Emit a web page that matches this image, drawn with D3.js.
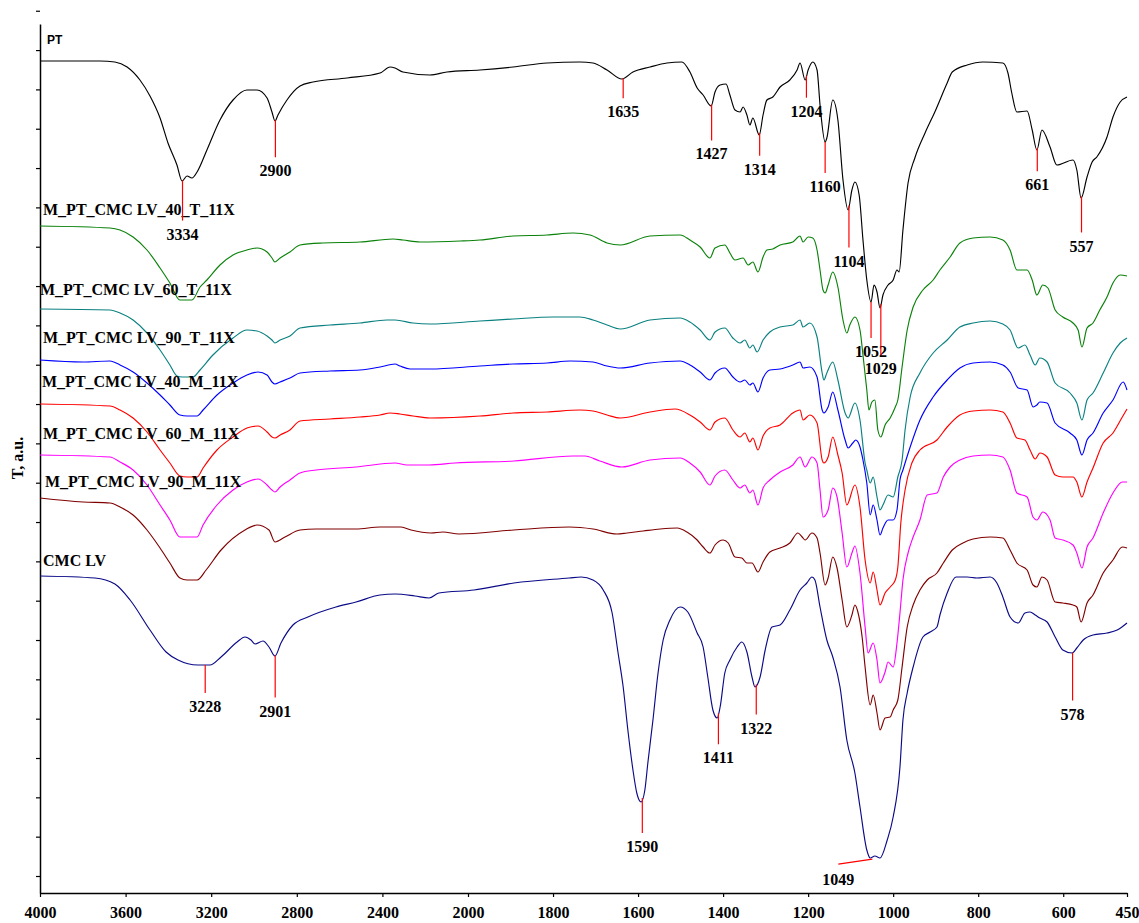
<!DOCTYPE html>
<html>
<head>
<meta charset="utf-8">
<script src="https://cdn.jsdelivr.net/npm/d3@7"></script>
<style>
  body { margin: 0; background: #ffffff; }
  svg { display: block; background: #ffffff; }
  text { font-family: "Liberation Serif", "Times New Roman", serif; font-weight: bold; fill: #000; }
</style>
</head>
<body>
<svg id="chart" width="1139" height="923"></svg>
<script>
// ---------------- DATA (wavenumber cm-1, T a.u.) ----------------
const seriesNames = ["PT", "M_PT_CMC LV_40_T_11X", "M_PT_CMC LV_60_T_11X", "M_PT_CMC LV_90_T_11X",
  "M_PT_CMC LV_40_M_11X", "M_PT_CMC LV_60_M_11X", "M_PT_CMC LV_90_M_11X", "CMC LV"];
const seriesColors = ["#000000", "#0a820a", "#0a8080", "#0000ff", "#ff0000", "#ff00ff", "#800000", "#0a0a88"];

const PT = [[4000,83.2],[3720,83.2],[3650,83.1],[3593,82.6],[3533,81.3],[3486,79.7],[3439,77.5],[3402,75.0],[3360,72.8],[3336,71.2],[3313,71.7],[3290,71.5],[3266,72.1],[3220,74.3],[3159,77.3],[3098,79.3],[3033,80.3],[2986,80.3],[2939,79.5],[2916,78.1],[2902,77.2],[2888,77.8],[2846,79.3],[2785,80.7],[2724,81.1],[2565,81.5],[2411,82.0],[2364,82.6],[2341,82.5],[2304,82.1],[2178,81.8],[2098,82.1],[1972,82.3],[1894,82.6],[1814,83.0],[1737,83.1],[1706,83.0],[1673,82.3],[1638,81.4],[1612,82.1],[1572,82.6],[1532,83.0],[1497,83.1],[1478,82.1],[1461,80.5],[1447,79.8],[1428,78.7],[1419,80.1],[1407,80.8],[1393,80.9],[1384,79.8],[1372,78.3],[1360,78.1],[1353,78.6],[1344,77.8],[1337,76.8],[1330,77.5],[1315,75.8],[1306,77.8],[1297,79.3],[1283,79.6],[1266,80.6],[1243,81.3],[1226,82.3],[1219,83.0],[1207,81.3],[1200,82.3],[1189,83.1],[1179,82.3],[1172,78.8],[1160,75.1],[1156,75.5],[1142,79.3],[1130,77.3],[1118,71.3],[1106,68.3],[1097,70.3],[1090,71.1],[1080,69.8],[1071,65.3],[1062,61.3],[1052,59.1],[1045,60.8],[1038,60.1],[1031,58.5],[1024,59.8],[1012,60.8],[1000,61.3],[991,62.3],[986,62.1],[977,66.3],[965,71.0],[949,73.5],[925,76.0],[902,78.1],[873,81.0],[861,82.1],[826,82.8],[789,83.1],[742,83.0],[730,82.0],[721,80.0],[709,78.1],[685,78.2],[673,76.3],[662,74.3],[650,76.3],[631,74.6],[615,72.8],[577,73.3],[568,72.3],[558,69.5],[544,71.6],[532,73.1],[521,73.6],[497,75.6],[483,77.6],[466,79.1],[450,79.6]];

const LV40T = [[4000,66.7],[3673,66.5],[3626,66.3],[3565,65.6],[3500,64.3],[3439,62.5],[3393,61.0],[3346,59.3],[3290,59.3],[3252,60.6],[3220,61.3],[3159,62.8],[3098,63.8],[3033,64.3],[2986,64.5],[2939,64.1],[2916,63.5],[2902,63.1],[2878,63.5],[2832,64.1],[2785,64.8],[2678,65.0],[2505,65.1],[2350,65.4],[2304,65.3],[2224,65.1],[2037,65.2],[1972,65.3],[1894,65.7],[1814,65.8],[1753,66.0],[1713,65.8],[1673,65.0],[1642,64.8],[1572,65.7],[1501,65.8],[1478,65.3],[1454,64.6],[1431,63.5],[1419,64.5],[1396,64.8],[1384,64.0],[1372,63.3],[1353,63.5],[1341,62.8],[1330,63.1],[1318,62.1],[1306,63.6],[1297,64.3],[1283,64.4],[1266,64.8],[1236,65.1],[1219,65.7],[1212,65.1],[1200,65.6],[1189,65.5],[1179,64.3],[1172,62.3],[1165,60.3],[1160,60.0],[1153,60.8],[1142,62.1],[1130,60.6],[1118,57.3],[1109,56.0],[1102,56.8],[1090,57.6],[1078,56.3],[1071,53.8],[1062,50.3],[1057,48.3],[1050,49.1],[1043,49.3],[1036,46.3],[1029,45.6],[1019,46.8],[1007,47.5],[995,48.6],[989,49.3],[979,52.6],[967,56.3],[953,58.6],[930,60.3],[906,61.3],[890,62.3],[866,63.6],[843,65.0],[812,65.5],[772,65.6],[742,65.3],[725,64.3],[709,62.3],[685,62.3],[673,61.3],[662,59.8],[648,60.8],[636,60.5],[619,58.3],[601,57.6],[577,57.0],[565,56.3],[556,54.6],[544,56.5],[530,57.0],[514,58.3],[497,59.6],[483,61.0],[466,61.8],[450,61.7]];

const LV60T = [[4000,58.4],[3673,58.3],[3626,58.0],[3565,57.3],[3500,56.0],[3439,54.3],[3393,52.8],[3360,51.7],[3336,51.6],[3285,51.6],[3252,52.3],[3192,53.8],[3098,55.5],[3033,56.3],[2986,56.2],[2939,55.7],[2916,55.3],[2902,55.0],[2878,55.3],[2832,55.7],[2785,56.5],[2645,56.8],[2505,57.0],[2379,57.3],[2341,57.3],[2257,57.0],[2178,56.9],[1972,57.2],[1894,57.4],[1800,57.6],[1737,57.6],[1706,57.3],[1673,56.8],[1642,56.4],[1572,57.3],[1501,57.5],[1478,57.1],[1454,56.3],[1431,55.3],[1419,56.1],[1396,56.5],[1377,55.5],[1360,55.0],[1349,55.3],[1337,54.5],[1330,54.8],[1320,54.1],[1306,55.3],[1290,56.1],[1266,56.6],[1236,56.8],[1219,57.3],[1212,56.6],[1196,57.0],[1179,55.6],[1167,52.0],[1163,51.3],[1156,52.0],[1142,53.1],[1130,51.3],[1113,48.0],[1106,47.5],[1090,49.0],[1078,47.3],[1066,43.0],[1062,42.3],[1054,41.0],[1047,41.6],[1038,39.6],[1031,38.3],[1024,38.8],[1012,39.8],[1000,39.6],[989,41.6],[979,43.3],[972,46.3],[960,49.6],[937,52.0],[906,54.0],[873,55.3],[843,56.6],[812,57.0],[772,57.2],[742,56.9],[725,56.3],[706,54.5],[690,54.8],[678,53.8],[666,52.8],[655,53.5],[638,53.1],[619,51.0],[584,50.0],[568,49.0],[556,47.3],[544,49.3],[530,50.0],[506,52.0],[483,54.0],[466,55.0],[450,55.5]];

const LV90T = [[4000,53.3],[3799,53.1],[3673,53.2],[3626,52.8],[3565,52.1],[3500,51.0],[3439,49.8],[3393,48.8],[3346,47.8],[3313,47.7],[3266,47.7],[3238,48.3],[3173,49.8],[3098,51.0],[3033,51.8],[2981,52.1],[2939,51.8],[2916,51.1],[2902,50.9],[2878,51.1],[2832,51.5],[2785,52.0],[2645,52.2],[2505,52.3],[2411,52.6],[2341,52.9],[2318,52.7],[2271,52.4],[2178,52.4],[1972,52.7],[1894,52.9],[1814,53.0],[1760,53.2],[1706,53.1],[1673,52.7],[1642,52.5],[1572,53.0],[1501,53.2],[1478,52.8],[1454,52.1],[1431,51.3],[1419,52.0],[1396,52.5],[1377,51.6],[1360,51.1],[1349,51.3],[1337,50.8],[1330,51.0],[1318,50.1],[1306,51.5],[1290,52.3],[1266,52.4],[1236,52.8],[1219,53.1],[1212,52.5],[1196,52.6],[1179,51.6],[1167,48.3],[1163,48.0],[1153,48.6],[1142,50.1],[1130,48.3],[1113,45.3],[1106,44.5],[1095,45.0],[1088,45.3],[1078,44.6],[1071,43.3],[1062,41.0],[1054,37.8],[1047,38.8],[1038,37.3],[1031,35.8],[1024,36.5],[1012,37.3],[1000,37.3],[991,38.3],[984,41.3],[977,42.3],[960,44.6],[937,47.3],[906,49.6],[873,51.3],[843,52.5],[812,53.0],[772,53.1],[742,52.8],[725,52.1],[706,50.5],[685,50.3],[671,48.6],[662,48.8],[655,49.1],[638,49.0],[619,47.0],[584,46.0],[568,45.3],[556,43.8],[544,45.3],[530,46.0],[506,48.0],[483,49.3],[459,51.1],[450,50.3]];

const LV40M = [[4000,48.9],[3673,48.7],[3626,48.3],[3565,47.5],[3500,46.1],[3439,44.3],[3393,43.0],[3346,41.7],[3313,41.6],[3266,41.6],[3238,42.5],[3173,44.3],[3098,45.6],[3033,46.5],[2981,46.7],[2939,46.1],[2916,45.6],[2902,45.5],[2878,45.8],[2832,46.3],[2785,47.2],[2645,47.4],[2505,47.6],[2411,47.8],[2364,48.0],[2318,47.9],[2257,47.7],[2178,47.5],[1972,47.7],[1894,48.0],[1814,48.1],[1737,48.3],[1706,48.2],[1673,47.8],[1642,47.5],[1572,48.1],[1513,48.4],[1478,47.8],[1454,47.1],[1431,46.3],[1419,47.1],[1396,47.5],[1377,46.3],[1360,45.6],[1349,46.0],[1337,45.1],[1330,45.5],[1318,44.3],[1306,45.7],[1290,46.5],[1266,46.8],[1236,48.0],[1219,48.3],[1212,47.3],[1196,47.8],[1179,47.0],[1167,43.3],[1163,43.0],[1153,43.6],[1142,45.6],[1130,43.8],[1120,42.0],[1109,38.8],[1090,40.8],[1078,38.6],[1066,33.3],[1054,31.0],[1047,32.1],[1038,30.3],[1031,28.8],[1019,30.0],[1007,30.6],[995,31.3],[989,32.6],[982,37.0],[972,40.3],[956,43.0],[937,44.3],[897,45.3],[873,46.6],[843,47.8],[812,48.2],[772,48.3],[742,48.1],[725,47.0],[709,45.5],[690,45.3],[678,44.3],[666,43.4],[655,44.0],[638,43.6],[619,41.8],[601,41.6],[577,41.6],[568,41.1],[556,39.6],[544,41.1],[530,42.5],[506,45.0],[483,46.0],[461,47.6],[450,48.4]];

const LV60M = [[4000,43.8],[3673,43.6],[3626,43.1],[3565,42.3],[3500,40.8],[3439,38.8],[3393,37.3],[3346,35.6],[3266,35.6],[3238,36.8],[3173,38.8],[3098,40.3],[3033,41.1],[2981,41.4],[2939,40.8],[2916,40.3],[2902,40.1],[2878,40.6],[2832,41.3],[2785,42.0],[2710,42.3],[2523,42.6],[2341,43.0],[2285,42.8],[2182,42.8],[2061,43.0],[1892,43.2],[1753,43.7],[1725,43.7],[1690,43.2],[1638,42.6],[1572,43.3],[1501,43.5],[1478,43.0],[1454,42.1],[1431,40.8],[1419,41.7],[1396,42.3],[1377,41.3],[1360,40.5],[1349,40.8],[1337,40.0],[1330,40.3],[1318,38.8],[1306,40.5],[1290,41.3],[1266,42.1],[1236,42.8],[1219,43.6],[1207,42.6],[1191,43.6],[1179,43.0],[1172,40.3],[1165,37.6],[1153,38.3],[1142,40.5],[1132,39.6],[1120,36.0],[1109,32.6],[1097,34.0],[1090,34.7],[1078,32.0],[1066,26.6],[1059,24.0],[1047,25.0],[1038,23.3],[1031,21.0],[1019,22.1],[1012,23.1],[1000,22.6],[991,25.0],[984,28.0],[977,31.3],[965,34.0],[953,35.6],[937,37.3],[920,39.8],[897,40.0],[882,41.6],[866,42.6],[843,43.3],[812,43.7],[772,43.8],[742,43.6],[725,42.3],[709,40.0],[685,39.6],[671,37.6],[662,37.3],[648,38.1],[631,37.3],[619,35.5],[601,35.3],[577,34.8],[568,34.0],[556,32.5],[544,34.6],[530,35.5],[506,38.0],[483,40.0],[461,41.1],[450,41.1]];

const LV90M = [[4000,39.5],[3799,39.1],[3673,39.0],[3626,38.6],[3565,37.8],[3500,36.3],[3439,34.5],[3393,33.0],[3346,31.5],[3313,31.3],[3266,31.3],[3224,32.3],[3154,34.3],[3042,36.3],[2986,36.8],[2930,36.3],[2902,35.1],[2855,35.6],[2785,36.3],[2710,36.4],[2523,36.4],[2411,36.6],[2313,36.6],[2266,36.3],[2173,36.0],[2117,36.1],[2042,35.9],[1892,36.3],[1762,36.6],[1706,36.4],[1650,35.9],[1626,36.0],[1588,36.2],[1548,36.4],[1508,36.5],[1485,36.1],[1461,35.3],[1447,34.6],[1431,34.0],[1419,34.8],[1400,35.3],[1388,35.0],[1372,33.6],[1356,33.5],[1344,33.0],[1332,33.0],[1318,32.1],[1306,33.1],[1290,34.1],[1266,34.5],[1243,35.0],[1224,36.0],[1214,35.6],[1207,35.3],[1191,36.0],[1179,35.5],[1172,34.0],[1160,30.8],[1153,31.5],[1142,33.6],[1132,32.5],[1120,29.3],[1109,26.6],[1097,27.8],[1090,28.8],[1083,28.1],[1073,25.6],[1066,22.6],[1054,18.8],[1047,19.8],[1038,18.0],[1031,16.3],[1019,17.5],[1007,17.6],[1000,18.3],[989,19.3],[979,22.6],[967,26.6],[953,28.8],[937,30.3],[920,31.3],[897,32.0],[882,33.0],[861,34.3],[836,35.0],[812,35.4],[772,35.6],[742,35.5],[725,34.3],[709,33.0],[685,32.3],[671,30.8],[662,30.6],[650,31.6],[638,31.3],[619,29.1],[601,29.0],[577,28.8],[568,28.6],[558,27.1],[544,29.0],[530,29.8],[506,32.0],[483,33.3],[461,34.6],[450,34.5]];

const CMCLV = [[4000,31.7],[3743,31.5],[3650,30.9],[3579,29.3],[3486,26.3],[3411,24.1],[3355,23.3],[3262,22.8],[3206,22.8],[3154,23.6],[3079,25.1],[3042,25.6],[3014,25.3],[2995,24.9],[2958,25.2],[2930,24.6],[2902,23.7],[2874,25.0],[2818,26.8],[2748,27.6],[2617,28.6],[2523,29.1],[2411,29.8],[2341,29.9],[2248,29.7],[2182,29.5],[2136,30.0],[1986,30.3],[1892,31.0],[1762,31.5],[1734,31.6],[1706,31.3],[1682,30.3],[1661,28.0],[1647,24.0],[1635,20.6],[1624,16.3],[1612,12.3],[1603,10.0],[1593,9.1],[1584,10.3],[1577,13.0],[1565,17.3],[1553,22.0],[1541,25.3],[1525,27.3],[1501,28.6],[1483,28.1],[1461,26.0],[1447,24.6],[1436,21.6],[1424,18.3],[1414,17.5],[1407,18.6],[1396,22.0],[1384,23.3],[1367,24.6],[1356,25.1],[1344,24.1],[1332,21.6],[1325,20.6],[1313,21.6],[1301,24.3],[1285,26.6],[1266,26.8],[1243,28.3],[1219,30.3],[1203,31.0],[1191,31.6],[1184,31.3],[1172,28.6],[1156,25.3],[1142,23.6],[1125,20.6],[1109,15.3],[1090,12.0],[1078,8.6],[1062,4.3],[1054,3.5],[1043,3.7],[1031,3.5],[1014,5.3],[1000,7.6],[984,12.6],[977,17.3],[967,20.0],[953,22.6],[930,25.6],[913,26.1],[897,26.6],[890,27.8],[873,30.0],[852,31.6],[826,31.6],[803,31.5],[772,31.6],[756,31.0],[742,29.6],[725,27.6],[706,27.0],[690,28.0],[678,28.1],[666,27.8],[655,27.5],[638,27.1],[619,25.6],[601,24.3],[579,24.0],[568,24.5],[553,25.3],[530,25.8],[497,26.0],[473,26.3],[450,27.0]];

const xTickValues = [4000, 3600, 3200, 2800, 2400, 2000, 1800, 1600, 1400, 1200, 1000, 800, 600, 450];
const ptPeaks = [3334, 2900, 1635, 1427, 1314, 1204, 1160, 1104, 1052, 1029, 661, 557];
const cmcPeaks = [3228, 2901, 1590, 1411, 1322, 1049, 578];
const yAxisTitle = "T, a.u.";

// ---------------- LAYOUT ----------------
const allSeries = [PT, LV40T, LV60T, LV90T, LV40M, LV60M, LV90M, CMCLV];
const labelPos = [[47, 43.5], [43, 215], [40, 295], [43, 343], [42, 387], [43, 439], [45, 487], [43, 566]];
const ptLineLen = [40, 37, 20, 36, 23, 22, 31, 42, 36, 51, 23, 36];
const cmcLineLen = [28, 42, 35, 31, 30, 0, 48];

const svg = d3.select("#chart");
const x = d3.scaleLinear().domain([4000, 2000, 450]).range([40, 468, 1127]);
const y = d3.scaleLinear().domain([0, 86.9]).range([893, 24]);

// axes
const yTicks = d3.range(23).map(k => 1.7 + k * 3.933);
const gy = svg.append("g").attr("transform", "translate(40,0)")
  .call(d3.axisLeft(y).tickValues(yTicks).tickFormat("").tickSize(4).tickSizeOuter(0));
gy.select(".domain").attr("stroke", "#000").attr("stroke-width", 1.5);
gy.selectAll(".tick line").attr("stroke", "#000").attr("stroke-width", 1.2);

const gx = svg.append("g").attr("transform", "translate(0,893)")
  .call(d3.axisBottom(x).tickValues(xTickValues).tickFormat(d3.format("d")).tickSize(4).tickSizeOuter(0));
gx.select(".domain").attr("stroke", "#000").attr("stroke-width", 1.5);
gx.selectAll(".tick line").attr("stroke", "#000").attr("stroke-width", 1.2);
gx.selectAll(".tick text").attr("y", 14)
  .style("font-family", '"Liberation Serif", "Times New Roman", serif')
  .style("font-weight", "bold").style("font-size", "16px").attr("fill", "#000");

svg.append("text").attr("transform", "translate(23,458) rotate(-90)")
  .attr("text-anchor", "middle").style("font-size", "16px").text(yAxisTitle);

// spectra
const line = d3.line().x(d => x(d[0])).y(d => y(d[1])).curve(d3.curveMonotoneX);
allSeries.forEach((s, i) => {
  svg.append("path").datum(s).attr("d", line)
    .attr("fill", "none").attr("stroke", seriesColors[i]).attr("stroke-width", 1.15)
    .attr("stroke-linejoin", "round");
});

// series labels
seriesNames.forEach((name, i) => {
  const t = svg.append("text").attr("x", labelPos[i][0]).attr("y", labelPos[i][1]).text(name);
  if (i === 0) {
    t.style("font-family", '"Liberation Sans", Arial, sans-serif').style("font-size", "12px");
  } else {
    t.style("font-size", "16px");
  }
});

// peak annotations
function valueAt(s, w) {
  for (let k = 0; k < s.length - 1; k++) {
    const a = s[k], b = s[k + 1];
    if (w <= a[0] && w >= b[0]) {
      const t = (a[0] - w) / (a[0] - b[0]);
      return a[1] + t * (b[1] - a[1]);
    }
  }
  return s[s.length - 1][1];
}
function annotate(s, peaks, lens) {
  peaks.forEach((w, k) => {
    const px = x(w), py = y(valueAt(s, w));
    if (lens[k] === 0) {
      svg.append("line").attr("x1", px).attr("y1", py + 2).attr("x2", px - 34).attr("y2", py + 7)
        .attr("stroke", "#ff0000").attr("stroke-width", 1.2);
      svg.append("text").attr("x", px - 34).attr("y", py + 28).attr("text-anchor", "middle")
        .style("font-size", "16px").text(w);
    } else {
      svg.append("line").attr("x1", px).attr("y1", py).attr("x2", px).attr("y2", py + lens[k])
        .attr("stroke", "#ff0000").attr("stroke-width", 1.2);
      svg.append("text").attr("x", px).attr("y", py + lens[k] + 19).attr("text-anchor", "middle")
        .style("font-size", "16px").text(w);
    }
  });
}
annotate(PT, ptPeaks, ptLineLen);
annotate(CMCLV, cmcPeaks, cmcLineLen);
</script>
</body>
</html>
